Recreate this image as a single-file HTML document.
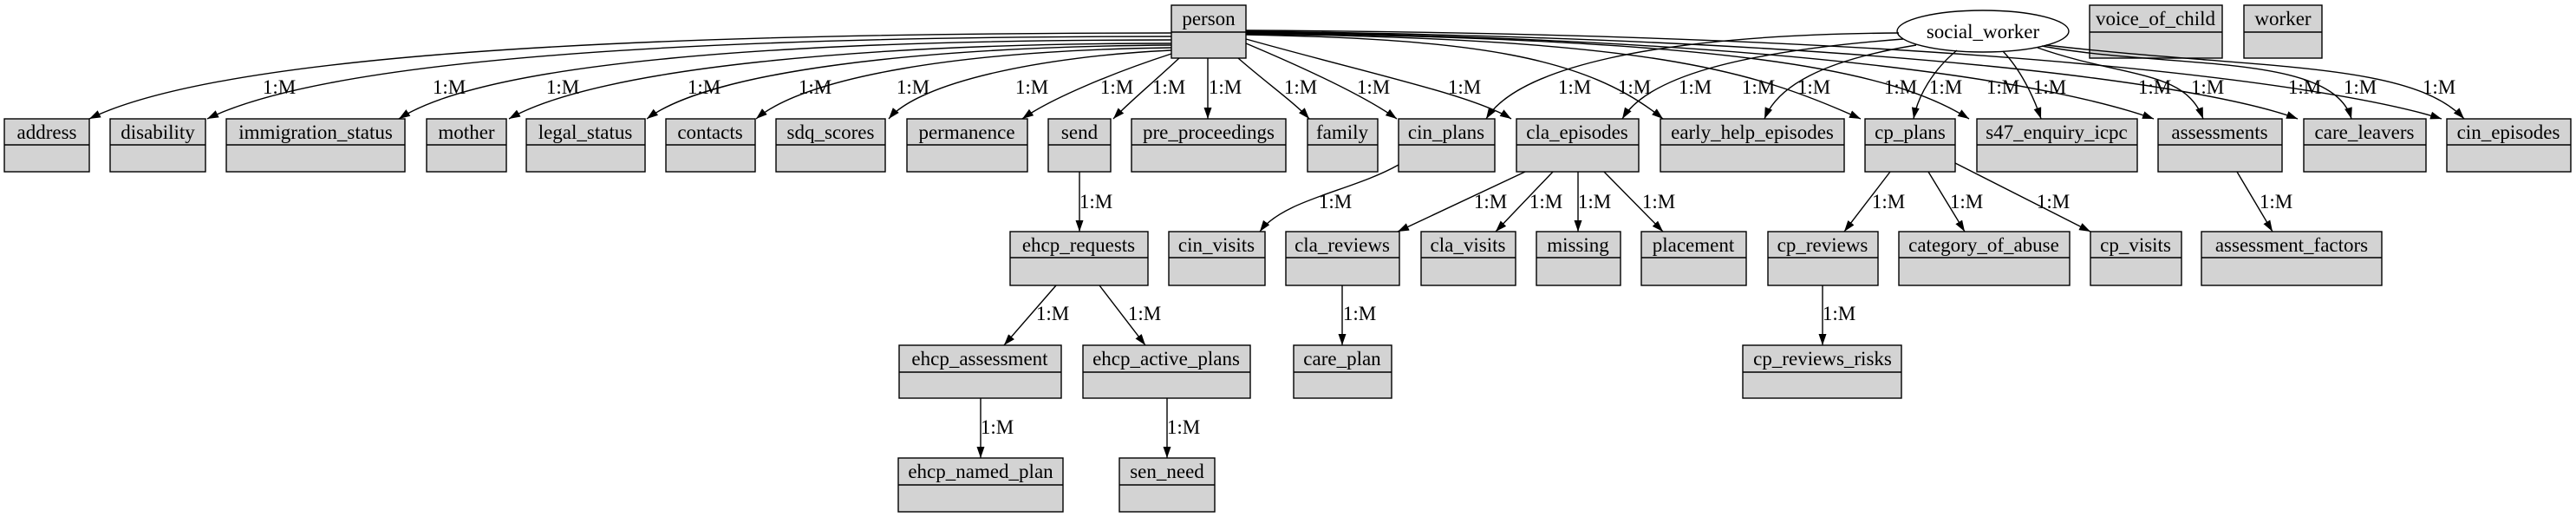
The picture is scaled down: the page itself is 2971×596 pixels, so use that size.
<!DOCTYPE html>
<html><head><meta charset="utf-8"><style>
html,body{margin:0;padding:0;background:#fff;}
svg{display:block;}
text{font-family:"Liberation Serif",serif;font-size:23px;fill:#000;}
.b rect{fill:#d3d3d3;stroke:#000;stroke-width:1.4;}
.b line{stroke:#000;stroke-width:1.4;}
.e{fill:none;stroke:#000;stroke-width:1.4;marker-end:url(#ah);}
</style></head><body>
<svg width="2971" height="596" viewBox="0 0 2971 596" xmlns="http://www.w3.org/2000/svg">
<defs><marker id="ah" markerUnits="userSpaceOnUse" markerWidth="14" markerHeight="10" refX="13" refY="4.5" orient="auto"><path d="M0,0 L13,4.5 L0,9 z" fill="#000"/></marker></defs>
<g id="boxes" class="b">
<!-- top -->
<rect x="1351" y="6" width="86" height="61"/><line x1="1351" y1="37" x2="1437" y2="37"/><text x="1394" y="29" text-anchor="middle">person</text>
<rect x="2410" y="6" width="153" height="61"/><line x1="2410" y1="37" x2="2563" y2="37"/><text x="2486" y="29" text-anchor="middle">voice_of_child</text>
<rect x="2588" y="6" width="90" height="61"/><line x1="2588" y1="37" x2="2678" y2="37"/><text x="2633" y="29" text-anchor="middle">worker</text>
</g>
<ellipse cx="2287" cy="36" rx="99" ry="24" fill="#fff" stroke="#000" stroke-width="1.4"/>
<text x="2287" y="44" text-anchor="middle">social_worker</text>
<g class="b">
<!-- row 1 y=137 -->
<rect x="5" y="137" width="98" height="61"/><line x1="5" y1="167" x2="103" y2="167"/><text x="54" y="160" text-anchor="middle">address</text>
<rect x="127" y="137" width="110" height="61"/><line x1="127" y1="167" x2="237" y2="167"/><text x="182" y="160" text-anchor="middle">disability</text>
<rect x="261" y="137" width="206" height="61"/><line x1="261" y1="167" x2="467" y2="167"/><text x="364" y="160" text-anchor="middle">immigration_status</text>
<rect x="492" y="137" width="92" height="61"/><line x1="492" y1="167" x2="584" y2="167"/><text x="538" y="160" text-anchor="middle">mother</text>
<rect x="607" y="137" width="137" height="61"/><line x1="607" y1="167" x2="744" y2="167"/><text x="675" y="160" text-anchor="middle">legal_status</text>
<rect x="768" y="137" width="103" height="61"/><line x1="768" y1="167" x2="871" y2="167"/><text x="819" y="160" text-anchor="middle">contacts</text>
<rect x="895" y="137" width="126" height="61"/><line x1="895" y1="167" x2="1021" y2="167"/><text x="958" y="160" text-anchor="middle">sdq_scores</text>
<rect x="1046" y="137" width="139" height="61"/><line x1="1046" y1="167" x2="1185" y2="167"/><text x="1115" y="160" text-anchor="middle">permanence</text>
<rect x="1209" y="137" width="72" height="61"/><line x1="1209" y1="167" x2="1281" y2="167"/><text x="1245" y="160" text-anchor="middle">send</text>
<rect x="1305" y="137" width="178" height="61"/><line x1="1305" y1="167" x2="1483" y2="167"/><text x="1394" y="160" text-anchor="middle">pre_proceedings</text>
<rect x="1508" y="137" width="81" height="61"/><line x1="1508" y1="167" x2="1589" y2="167"/><text x="1548" y="160" text-anchor="middle">family</text>
<rect x="1613" y="137" width="111" height="61"/><line x1="1613" y1="167" x2="1724" y2="167"/><text x="1668" y="160" text-anchor="middle">cin_plans</text>
<rect x="1749" y="137" width="141" height="61"/><line x1="1749" y1="167" x2="1890" y2="167"/><text x="1819" y="160" text-anchor="middle">cla_episodes</text>
<rect x="1915" y="137" width="212" height="61"/><line x1="1915" y1="167" x2="2127" y2="167"/><text x="2021" y="160" text-anchor="middle">early_help_episodes</text>
<rect x="2151" y="137" width="104" height="61"/><line x1="2151" y1="167" x2="2255" y2="167"/><text x="2203" y="160" text-anchor="middle">cp_plans</text>
<rect x="2280" y="137" width="185" height="61"/><line x1="2280" y1="167" x2="2465" y2="167"/><text x="2372" y="160" text-anchor="middle">s47_enquiry_icpc</text>
<rect x="2489" y="137" width="143" height="61"/><line x1="2489" y1="167" x2="2632" y2="167"/><text x="2560" y="160" text-anchor="middle">assessments</text>
<rect x="2657" y="137" width="141" height="61"/><line x1="2657" y1="167" x2="2798" y2="167"/><text x="2727" y="160" text-anchor="middle">care_leavers</text>
<rect x="2822" y="137" width="143" height="61"/><line x1="2822" y1="167" x2="2965" y2="167"/><text x="2893" y="160" text-anchor="middle">cin_episodes</text>
<!-- row 2 y=267 -->
<rect x="1165" y="267" width="159" height="62"/><line x1="1165" y1="297" x2="1324" y2="297"/><text x="1244" y="290" text-anchor="middle">ehcp_requests</text>
<rect x="1348" y="267" width="111" height="62"/><line x1="1348" y1="297" x2="1459" y2="297"/><text x="1403" y="290" text-anchor="middle">cin_visits</text>
<rect x="1483" y="267" width="131" height="62"/><line x1="1483" y1="297" x2="1614" y2="297"/><text x="1548" y="290" text-anchor="middle">cla_reviews</text>
<rect x="1639" y="267" width="109" height="62"/><line x1="1639" y1="297" x2="1748" y2="297"/><text x="1693" y="290" text-anchor="middle">cla_visits</text>
<rect x="1772" y="267" width="97" height="62"/><line x1="1772" y1="297" x2="1869" y2="297"/><text x="1820" y="290" text-anchor="middle">missing</text>
<rect x="1893" y="267" width="121" height="62"/><line x1="1893" y1="297" x2="2014" y2="297"/><text x="1953" y="290" text-anchor="middle">placement</text>
<rect x="2039" y="267" width="127" height="62"/><line x1="2039" y1="297" x2="2166" y2="297"/><text x="2102" y="290" text-anchor="middle">cp_reviews</text>
<rect x="2190" y="267" width="197" height="62"/><line x1="2190" y1="297" x2="2387" y2="297"/><text x="2288" y="290" text-anchor="middle">category_of_abuse</text>
<rect x="2411" y="267" width="105" height="62"/><line x1="2411" y1="297" x2="2516" y2="297"/><text x="2463" y="290" text-anchor="middle">cp_visits</text>
<rect x="2539" y="267" width="208" height="62"/><line x1="2539" y1="297" x2="2747" y2="297"/><text x="2643" y="290" text-anchor="middle">assessment_factors</text>
<!-- row 3 y=398 -->
<rect x="1037" y="398" width="187" height="61"/><line x1="1037" y1="429" x2="1224" y2="429"/><text x="1130" y="421" text-anchor="middle">ehcp_assessment</text>
<rect x="1249" y="398" width="193" height="61"/><line x1="1249" y1="429" x2="1442" y2="429"/><text x="1345" y="421" text-anchor="middle">ehcp_active_plans</text>
<rect x="1492" y="398" width="113" height="61"/><line x1="1492" y1="429" x2="1605" y2="429"/><text x="1548" y="421" text-anchor="middle">care_plan</text>
<rect x="2010" y="398" width="183" height="61"/><line x1="2010" y1="429" x2="2193" y2="429"/><text x="2102" y="421" text-anchor="middle">cp_reviews_risks</text>
<!-- row 4 y=528 -->
<rect x="1036" y="528" width="190" height="62"/><line x1="1036" y1="559" x2="1226" y2="559"/><text x="1131" y="551" text-anchor="middle">ehcp_named_plan</text>
<rect x="1291" y="528" width="110" height="62"/><line x1="1291" y1="559" x2="1401" y2="559"/><text x="1346" y="551" text-anchor="middle">sen_need</text>
</g>
<g id="edges">
<path class="e" d="M1351,38 C700,38 250,65 103,137"/>
<path class="e" d="M1351,42 C800,42 380,68 239,137"/>
<path class="e" d="M1351,46 C900,46 560,72 460,137"/>
<path class="e" d="M1351,50 C1000,50 690,78 587,137"/>
<path class="e" d="M1351,52 C1060,54 820,82 746,137"/>
<path class="e" d="M1351,55 C1110,58 930,88 872,137"/>
<path class="e" d="M1351,58 C1200,65 1060,95 1025,137"/>
<path class="e" d="M1351,62 C1280,85 1210,115 1179,137"/>
<path class="e" d="M1360,67 C1330,95 1300,120 1284,137"/>
<path class="e" d="M1393,67 L1393,137"/>
<path class="e" d="M1428,67 C1460,95 1495,120 1510,137"/>
<path class="e" d="M1437,50 C1520,85 1580,115 1611,137"/>
<path class="e" d="M1437,45 C1580,85 1700,110 1743,137"/>
<path class="e" d="M1437,40 C1700,45 1830,65 1918,137"/>
<path class="e" d="M1437,39 C1900,45 2020,80 2146,137"/>
<path class="e" d="M1437,38 C2000,45 2180,80 2271,137"/>
<path class="e" d="M1437,37 C2100,45 2380,100 2484,137"/>
<path class="e" d="M1437,36 C2200,45 2550,100 2650,137"/>
<path class="e" d="M1437,35 C2300,40 2700,100 2816,137"/>
<path class="e" d="M2190,38 C1900,40 1750,80 1714,137"/>
<path class="e" d="M2195,45 C2000,60 1900,90 1871,137"/>
<path class="e" d="M2210,52 C2100,70 2050,100 2035,137"/>
<path class="e" d="M2257,58 C2230,80 2212,110 2207,137"/>
<path class="e" d="M2310,59 C2330,80 2345,110 2354,137"/>
<path class="e" d="M2350,55 C2450,90 2520,80 2541,137"/>
<path class="e" d="M2355,53 C2500,80 2690,60 2712,137"/>
<path class="e" d="M2360,52 C2600,80 2780,70 2842,137"/>
<path class="e" d="M1245,198 L1245,267"/>
<path class="e" d="M1613,190 C1560,220 1480,230 1453,267"/>
<path class="e" d="M1759,198 L1612,267"/>
<path class="e" d="M1791,198 L1725,267"/>
<path class="e" d="M1820,198 L1820,267"/>
<path class="e" d="M1850,198 L1918,267"/>
<path class="e" d="M2180,198 L2127,267"/>
<path class="e" d="M2224,198 L2266,267"/>
<path class="e" d="M2255,188 L2411,267"/>
<path class="e" d="M2580,198 L2621,267"/>
<path class="e" d="M1218,329 L1158,398"/>
<path class="e" d="M1268,329 L1321,398"/>
<path class="e" d="M1548,329 L1548,398"/>
<path class="e" d="M2102,329 L2102,398"/>
<path class="e" d="M1131,459 L1131,528"/>
<path class="e" d="M1346,459 L1346,528"/>
</g>
<g id="labels" text-anchor="middle">
<text x="322" y="108">1:M</text><text x="518" y="108">1:M</text><text x="649" y="108">1:M</text><text x="812" y="108">1:M</text><text x="940" y="108">1:M</text><text x="1053" y="108">1:M</text><text x="1190" y="108">1:M</text><text x="1288" y="108">1:M</text><text x="1348" y="108">1:M</text><text x="1413" y="108">1:M</text><text x="1500" y="108">1:M</text><text x="1584" y="108">1:M</text><text x="1689" y="108">1:M</text><text x="1816" y="108">1:M</text><text x="1885" y="108">1:M</text><text x="1955" y="108">1:M</text><text x="2028" y="108">1:M</text><text x="2092" y="108">1:M</text><text x="2192" y="108">1:M</text><text x="2244" y="108">1:M</text><text x="2310" y="108">1:M</text><text x="2364" y="108">1:M</text><text x="2485" y="108">1:M</text><text x="2546" y="108">1:M</text><text x="2658" y="108">1:M</text><text x="2722" y="108">1:M</text><text x="2813" y="108">1:M</text>
<text x="1264" y="240">1:M</text><text x="1540" y="240">1:M</text><text x="1719" y="240">1:M</text><text x="1783" y="240">1:M</text><text x="1839" y="240">1:M</text><text x="1913" y="240">1:M</text><text x="2178" y="240">1:M</text><text x="2268" y="240">1:M</text><text x="2368" y="240">1:M</text><text x="2625" y="240">1:M</text>
<text x="1214" y="369">1:M</text><text x="1320" y="369">1:M</text><text x="1568" y="369">1:M</text><text x="2121" y="369">1:M</text>
<text x="1150" y="500">1:M</text><text x="1365" y="500">1:M</text>
</g>
</svg>
</body></html>
